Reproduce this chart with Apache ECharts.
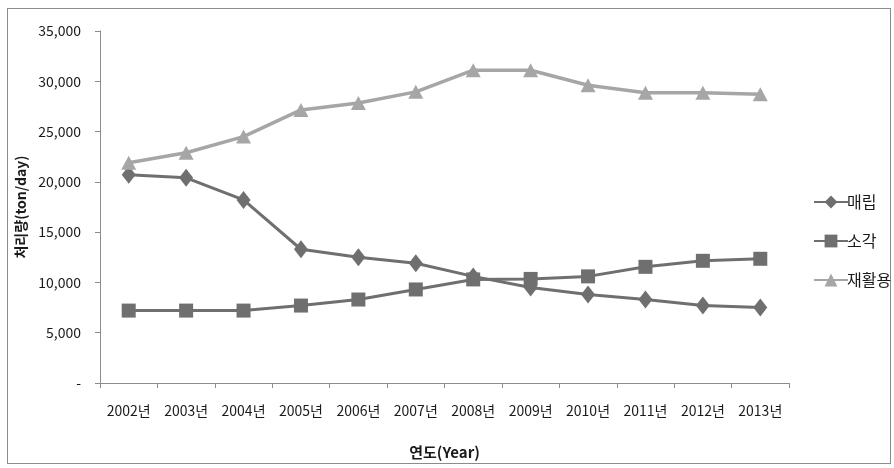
<!DOCTYPE html>
<html>
<head>
<meta charset="utf-8">
<script src="https://cdn.jsdelivr.net/npm/echarts@6/dist/echarts.min.js"></script>
<style>
  html, body { margin: 0; padding: 0; background: #fff; }
  #frame { position: absolute; left: 7px; top: 8px; width: 884px; height: 456px; border: 1px solid #8c8c8c; box-sizing: border-box; }
  #chart { position: absolute; left: 0; top: 0; width: 894px; height: 468px; }
</style>
</head>
<body>
<div id="frame"></div>
<div id="chart"></div>
<script>
// 연도별 폐기물 처리량 (ton/day)
const years = ['2002년', '2003년', '2004년', '2005년', '2006년', '2007년', '2008년', '2009년', '2010년', '2011년', '2012년', '2013년'];
const landfill = [20700, 20400, 18200, 13300, 12500, 11900, 10600, 9500, 8800, 8300, 7700, 7500];
const incineration = [7200, 7200, 7200, 7700, 8300, 9300, 10300, 10350, 10600, 11550, 12150, 12350];
const recycling = [21900, 22900, 24500, 27150, 27850, 28950, 31100, 31100, 29600, 28850, 28850, 28700];
const yTicks = [0, 5000, 10000, 15000, 20000, 25000, 30000, 35000];

const font = '"Noto Sans CJK KR", "Noto Sans", sans-serif';
const dark = '#6f6f6f';
const light = '#a6a6a6';

const chart = echarts.init(document.getElementById('chart'), null, { renderer: 'canvas' });

chart.setOption({
  animation: false,
  textStyle: { fontFamily: font },
  grid: { left: 100, right: 105, top: 31, bottom: 85 },
  legend: {
    orient: 'vertical',
    left: 808,
    top: 189,
    itemGap: 23,
    itemWidth: 34,
    itemHeight: 16,
    textStyle: { fontFamily: font, fontSize: 16, color: '#1a1a1a', padding: [0, 0, 0, -6] },
    data: ['매립', '소각', '재활용']
  },
  xAxis: {
    type: 'category',
    data: years,
    boundaryGap: true,
    name: '연도(Year)',
    nameLocation: 'middle',
    nameGap: 62,
    nameTextStyle: { fontFamily: font, fontSize: 15, fontWeight: 'bold', color: '#1a1a1a' },
    axisLine: { lineStyle: { color: '#8c8c8c', width: 1 } },
    axisTick: { show: true, length: 5, lineStyle: { color: '#8c8c8c' } },
    axisLabel: { margin: 21, fontSize: 14, color: '#1a1a1a', fontFamily: font, interval: 0 }
  },
  yAxis: {
    type: 'value',
    min: yTicks[0],
    max: yTicks[yTicks.length - 1],
    interval: yTicks[1] - yTicks[0],
    name: '처리량(ton/day)',
    nameLocation: 'middle',
    nameGap: 70,
    nameRotate: 90,
    nameTextStyle: { fontFamily: font, fontSize: 14, fontWeight: 'bold', color: '#1a1a1a' },
    axisLine: { show: true, lineStyle: { color: '#8c8c8c', width: 1 } },
    axisTick: { show: true, length: 5, lineStyle: { color: '#8c8c8c' } },
    splitLine: { show: false },
    axisLabel: {
      margin: 19,
      fontSize: 14,
      color: '#1a1a1a',
      fontFamily: font,
      formatter: v => v === 0 ? '-' : v.toLocaleString('en-US')
    }
  },
  series: [
    {
      name: '매립', type: 'line', data: landfill,
      symbol: 'diamond', symbolSize: [14, 18],
      lineStyle: { color: dark, width: 3 },
      itemStyle: { color: dark }
    },
    {
      name: '소각', type: 'line', data: incineration,
      symbol: 'rect', symbolSize: 14,
      lineStyle: { color: dark, width: 3 },
      itemStyle: { color: dark }
    },
    {
      name: '재활용', type: 'line', data: recycling,
      symbol: 'triangle', symbolSize: [15, 14],
      lineStyle: { color: light, width: 3.5 },
      itemStyle: { color: light }
    }
  ]
});
</script>
</body>
</html>
